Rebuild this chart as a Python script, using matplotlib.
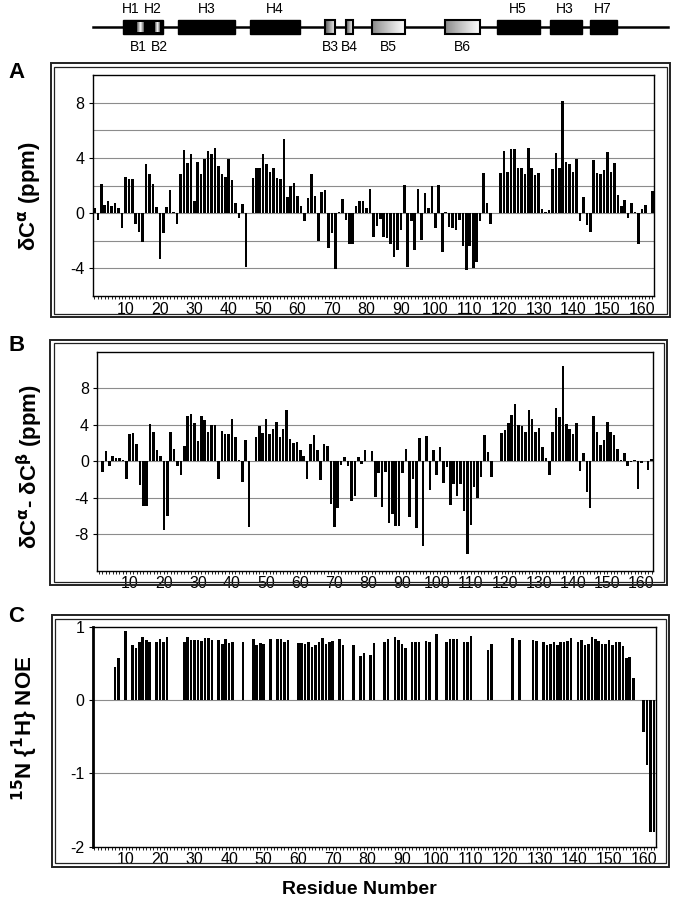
import numpy as np
import matplotlib
matplotlib.use("Agg")
import matplotlib.pyplot as plt
from matplotlib.patches import Rectangle

plt.rcParams['font.family'] = ['Liberation Sans', 'DejaVu Sans']
plt.rcParams['mathtext.default'] = 'bf'

# residue numbers 1..163
residues = np.arange(1, 164)

# panel A: delta C-alpha (ppm)
dCa = [0.4, -0.5, 2.1, 0.6, 0.9, 0.5, 0.75, 0.4, -1.1, 2.6,
       2.45, 2.45, -0.8, -1.4, -2.1, 3.55, 2.8, 2.1, 0.45, -3.3,
       -1.45, 0.45, 1.65, 0.05, -0.8, 2.85, 4.55, 3.65, 4.25, 0.9,
       3.7, 2.85, 3.9, 4.5, 4.25, 4.7, 3.4, 2.85, 2.65, 3.9,
       2.4, 0.75, -0.35, 0.65, -3.9, 0.0, 2.55, 3.3, 3.3, 4.25,
       3.55, 2.95, 3.3, 2.55, 2.45, 5.35, 1.2, 1.95, 2.2, 1.25,
       0.55, -0.55, 1.1, 2.85, 1.25, -2.0, 1.5, 1.7, -2.5, -1.45,
       -4.05, 0.05, 1.05, -0.5, -2.25, -2.25, 0.5, 0.85, 0.85, 0.35,
       1.75, -1.75, -0.9, -0.4, -1.7, -1.8, -2.2, -3.15, -2.65, -1.2,
       2.05, -3.9, -0.6, -2.65, 1.75, -1.95, 1.45, 0.35, 1.95, -1.1,
       2.05, -2.8, 0.05, -1.0, -1.1, -1.2, -0.5, -2.4, -4.1, -2.4,
       -3.95, -3.55, -0.55, 2.9, 0.7, -0.8, 0.0, 0.0, 2.9, 4.5,
       2.95, 4.65, 4.65, 3.25, 3.3, 2.8, 4.7, 3.3, 2.75, 2.9,
       0.3, 0.05, 0.25, 3.2, 4.35, 3.25, 8.15, 3.7, 3.55, 2.95,
       3.95, -0.6, 1.2, -0.85, -1.4, 3.85, 2.9, 2.8, 3.15, 4.4,
       2.95, 3.6, 1.3, 0.5, 0.95, -0.35, 0.7, 0.1, -2.2, 0.3,
       0.6, 0.0, 1.6]

# panel B: delta C-alpha - delta C-beta (ppm)
dCaCb = [0.0, -1.2, 1.1, -0.55, 0.6, 0.4, 0.35, 0.1, -1.9, 2.95,
         3.1, 1.95, -2.55, -4.9, -4.9, 4.15, 3.2, 1.2, 0.6, -7.5,
         -6.0, 3.2, 1.35, -0.55, -1.45, 1.7, 4.95, 5.25, 4.2, 2.2,
         5.0, 4.5, 3.2, 3.95, 4.0, -1.9, 3.35, 3.05, 3.05, 4.6,
         2.7, 0.2, -2.3, 2.3, -7.15, 0.0, 2.65, 3.85, 3.1, 4.65,
         3.05, 3.5, 4.3, 2.65, 3.5, 5.6, 2.4, 2.0, 2.1, 1.3,
         0.55, -1.95, 1.9, 2.85, 1.2, -2.0, 1.85, 1.7, -4.7, -7.15,
         -5.15, -0.35, 0.5, -0.5, -4.4, -3.85, 0.45, -0.3, 1.2, 0.0,
         1.1, -3.95, -1.25, -5.05, -1.2, -6.8, -5.75, -7.05, -7.05, -1.3,
         1.4, -6.1, -1.95, -7.3, 2.6, -9.25, 2.8, -3.15, 1.25, -1.55,
         1.6, -2.4, -0.65, -4.75, -2.5, -3.75, -2.5, -5.5, -10.15, -6.95,
         -2.85, -4.05, -1.75, 2.9, 1.05, -1.7, 0.0, 0.0, 3.1, 3.45,
         4.2, 5.05, 6.3, 4.0, 3.9, 3.25, 5.65, 4.65, 3.2, 3.65,
         1.55, 0.4, -1.55, 3.25, 5.8, 4.9, 10.5, 4.1, 3.55, 3.0,
         4.25, -1.1, 0.9, -3.4, -5.1, 5.0, 3.25, 1.8, 2.35, 4.35,
         3.2, 2.9, 1.35, 0.2, 0.9, -0.5, -0.1, 0.15, -3.05, -0.2,
         0.0, -0.95, 0.25]

# panel C: 15N{1H} NOE (None = not measured)
noe = [None, None, None, None, None, None, 0.45, 0.58, None, 0.94,
       None, 0.76, 0.71, 0.80, 0.86, 0.82, 0.79, None, 0.80, 0.84,
       0.79, 0.86, None, None, None, None, 0.80, 0.87, 0.82, 0.82,
       0.82, 0.81, 0.85, 0.85, 0.82, None, 0.82, 0.77, 0.84, 0.78,
       0.80, None, None, 0.79, None, None, 0.84, 0.75, 0.78, 0.77,
       None, 0.84, None, 0.84, 0.83, 0.80, 0.82, None, None, 0.78,
       0.78, 0.77, 0.80, 0.73, 0.76, 0.80, 0.85, 0.77, 0.80, 0.81,
       None, 0.84, 0.75, None, None, 0.76, None, 0.60, 0.65, None,
       0.62, 0.78, None, None, 0.80, 0.84, None, 0.87, 0.82, 0.77,
       0.72, None, 0.80, 0.80, 0.79, None, 0.81, 0.79, None, 0.90,
       None, None, 0.79, 0.84, 0.83, 0.83, None, 0.80, 0.80, 0.88,
       None, None, None, None, 0.69, 0.77, None, None, None, None,
       None, 0.85, None, 0.82, None, None, None, 0.82, 0.81, None,
       0.80, 0.76, 0.77, 0.79, 0.75, 0.80, 0.80, 0.81, 0.85, None,
       0.80, 0.82, 0.76, 0.77, 0.86, 0.83, 0.81, 0.77, 0.77, 0.82,
       0.76, 0.80, 0.80, 0.74, 0.57, 0.59, 0.30, None, None, -0.44,
       -0.88, -1.80, -1.80]

# secondary structure map (start, end residue)
helix_names = ['H1', 'H2', 'H3', 'H4', 'H5', 'H3', 'H7']
helix_label_x = [11.5, 18.0, 33.5, 53.5, 124.0, 137.5, 148.5]
helix_blocks = [(9.3, 20.9), (25.3, 41.8), (46.2, 60.7), (117.9, 130.4), (133.3, 142.6), (144.9, 152.7)]
strand_names = ['B1', 'B2', 'B3', 'B4', 'B5', 'B6']
strand_label_x = [13.8, 19.8, 69.4, 75.0, 86.4, 107.9]
strand_spans = [(13.4, 15.4), (18.6, 20.0), (67.9, 71.0), (74.0, 76.0), (81.6, 91.2), (102.8, 113.0)]

W, H = 673, 899
fig = plt.figure(figsize=(W / 100, H / 100), dpi=100)


def px_axes(left, top, right, bottom):
    return fig.add_axes([left / W, 1 - bottom / H, (right - left) / W, (bottom - top) / H])


def frame(left, top, right, bottom):
    for d, lw in [(0, 1.4), (3.5, 0.9)]:
        fig.patches.append(Rectangle(((left + d) / W, 1 - (bottom - d) / H),
                                     (right - left - 2 * d) / W, (bottom - top - 2 * d) / H,
                                     transform=fig.transFigure, fill=False,
                                     edgecolor='#222222', linewidth=lw))


def bar_panel(ax, vals, ylim, grid, yticks):
    v = np.array([np.nan if x is None else x for x in vals], dtype=float)
    ok = ~np.isnan(v)
    ax.bar(residues[ok], v[ok], width=0.75, color='black', zorder=3)
    ax.set_xlim(0.5, 163.5)
    ax.set_ylim(*ylim)
    for g in grid:
        ax.axhline(g, color='#8c8c8c', linewidth=0.8, zorder=1)
    ax.set_yticks(yticks)
    ax.set_yticklabels([str(t) for t in yticks], fontsize=11.5)
    ax.set_xticks(range(10, 161, 10))
    ax.set_xticklabels([str(t) for t in range(10, 161, 10)], fontsize=11.5)
    ax.set_xticks(residues, minor=True)
    ax.tick_params(axis='x', which='both', length=2, width=0.6, pad=2)
    ax.tick_params(axis='y', length=3, width=0.8, pad=3)
    for s in ax.spines.values():
        s.set_linewidth(1.0)


# secondary structure diagram
axd = px_axes(92.7, 2, 654, 52)
axd.set_xlim(0.5, 163.5)
axd.set_ylim(0, 50)
axd.axis('off')
axd.plot([0.5, 167.5], [25, 25], color='black', linewidth=1.8, clip_on=False, zorder=1)
for (a, b) in helix_blocks:
    axd.add_patch(Rectangle((a, 18), b - a, 14, facecolor='black', edgecolor='black', zorder=2))
grad = np.linspace(1, 0.35, 50).reshape(1, -1)
for i, (a, b) in enumerate(strand_spans):
    if i < 2:
        axd.imshow(np.hstack([grad[:, ::-1], grad]), cmap='gray', vmin=0, vmax=1, aspect='auto',
                   extent=(a, b, 20, 30), zorder=3)
    else:
        axd.add_patch(Rectangle((a, 18), b - a, 14, facecolor='none', edgecolor='black',
                                linewidth=1.5, zorder=4))
        axd.imshow(grad[:, ::-1] if i < 4 else grad[:, ::-1] ** 0.6, cmap='gray', vmin=0, vmax=1,
                   aspect='auto', extent=(a, b, 19, 31), zorder=3)
    axd.text(strand_label_x[i], 5, strand_names[i], ha='center', va='center', fontsize=10)
for name, x in zip(helix_names, helix_label_x):
    axd.text(x, 43, name, ha='center', va='center', fontsize=10)

# panel A
frame(50.7, 63, 670, 317)
axA = px_axes(92.7, 75, 654, 296)
bar_panel(axA, dCa, (-6, 10), [-4, -2, 0, 2, 4, 6, 8], [-4, 0, 4, 8])
fig.text(8 / W, 1 - 73 / H, 'A', fontsize=16, fontweight='bold', va='center')
fig.text(30 / W, 1 - 196 / H, 'δC$^{\\alpha}$ (ppm)', rotation=90, fontsize=16,
         fontweight='bold', ha='center', va='center')

# panel B
frame(50, 340, 667, 585)
axB = px_axes(97.3, 352, 653.3, 570.7)
bar_panel(axB, dCaCb, (-12, 12), [-8, -4, 0, 4, 8], [-8, -4, 0, 4, 8])
fig.text(8 / W, 1 - 345 / H, 'B', fontsize=16, fontweight='bold', va='center')
fig.text(30 / W, 1 - 467 / H, 'δC$^{\\alpha}$- δC$^{\\beta}$ (ppm)', rotation=90,
         fontsize=16, fontweight='bold', ha='center', va='center')

# panel C
frame(51.7, 615, 669, 866.7)
axC = px_axes(92.7, 627, 655.7, 846.7)
bar_panel(axC, noe, (-2, 1), [-1, 0], [-2, -1, 0, 1])
axC.spines['left'].set_linewidth(2.0)
fig.text(8 / W, 1 - 617 / H, 'C', fontsize=16, fontweight='bold', va='center')
fig.text(25 / W, 1 - 728 / H, '$^{15}$N {$^{1}$H} NOE', rotation=90, fontsize=16,
         fontweight='bold', ha='center', va='center')

fig.text(359 / W, 1 - 889 / H, 'Residue Number', fontsize=14, fontweight='bold',
         ha='center', va='center')

fig.savefig('out.png', dpi=100)
